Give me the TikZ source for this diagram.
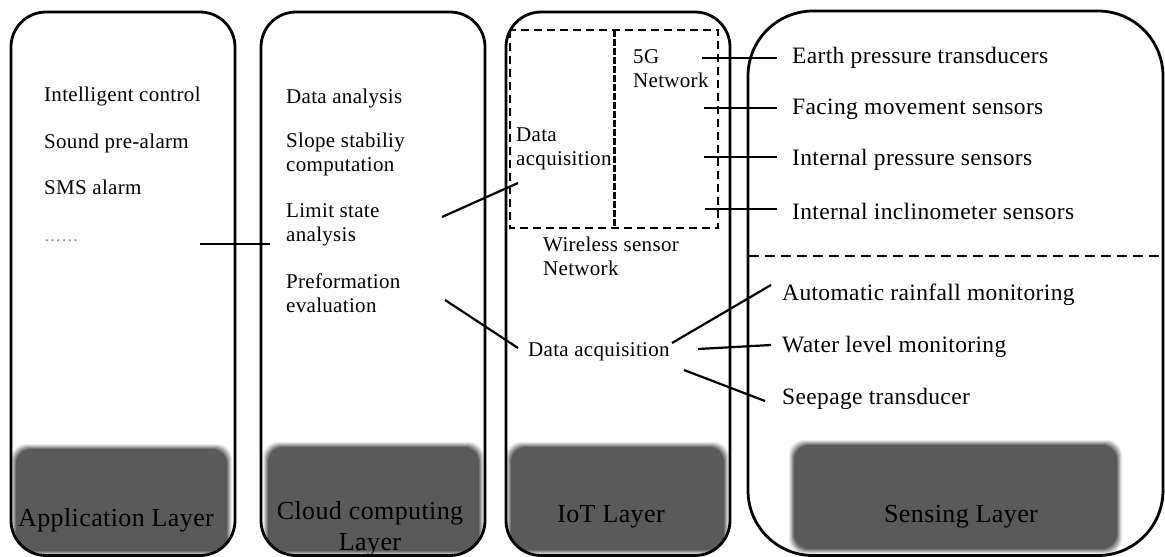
\documentclass[tikz,border=0pt]{standalone}
\usepackage{fontspec}
\setmainfont{Liberation Serif}[LetterSpace=1.5]
\definecolor{boxgray}{HTML}{5A5A5A}
\begin{document}
\begin{tikzpicture}[x=1pt,y=-1pt,
  outline/.style={line width=2.8pt},
  conn/.style={line width=2.2pt},
  dashbox/.style={line width=2.8pt, dash pattern=on 8pt off 5pt},
  divider/.style={line width=3pt, dash pattern=on 7pt off 2pt},
  txt/.style={anchor=base west, inner sep=0pt, font=\fontsize{21}{24}\selectfont, align=left},
  stxt/.style={anchor=base west, inner sep=0pt, font=\fontsize{23.5}{26}\selectfont},
  ltxt/.style={anchor=base, inner sep=0pt, font=\fontsize{26}{31}\selectfont, align=center},
  gb/.style={fill=boxgray, rounded corners=15pt}]
\useasboundingbox (0,0) rectangle (1165,557);
\newcommand\grayblock[4]{%
  \foreach \d/\o in {5/0.12,4/0.18,3/0.25,2/0.35,1/0.5}{%
    \fill[gb, opacity=\o] (#1-\d,#2-\d) rectangle (#3+\d,#4+\d);}
  \fill[gb] (#1,#2) rectangle (#3,#4);}
% gray label blocks, clipped by their layer outlines
\begin{scope}\clip[rounded corners=35pt] (11,12) rectangle (235,555.5);
  \grayblock{16}{449}{227}{551}\end{scope}
\begin{scope}\clip[rounded corners=35pt] (261,12) rectangle (485,555.5);
  \grayblock{268}{447}{479}{551}\end{scope}
\begin{scope}\clip[rounded corners=35pt] (506,12) rectangle (730,555.5);
  \grayblock{511}{447}{724}{550}\end{scope}
\begin{scope}\clip[rounded corners=65pt] (748,11) rectangle (1163,555.5);
  \grayblock{794}{445}{1117}{549}\end{scope}
% layer outlines
\draw[outline, rounded corners=35pt] (11,12) rectangle (235,555.5);
\draw[outline, rounded corners=35pt] (261,12) rectangle (485,555.5);
\draw[outline, rounded corners=35pt] (506,12) rectangle (730,555.5);
\draw[outline, rounded corners=65pt] (748,11) rectangle (1163,555.5);
% dashed structures
\draw[dashbox] (510,30) rectangle (718,228);
\draw[divider] (614,30) -- (614,228);
\draw[dashbox, dash pattern=on 10pt off 6pt] (749,256) -- (1165,256);
% layer labels
\node[ltxt] (lapp) at (116,526) {Application Layer};
\node[ltxt] (lcloud) at (370,519) {Cloud computing};
\node[ltxt] (lcloud2) at (370,550) {Layer};
\node[ltxt] (liot) at (611,522) {IoT Layer};
\node[ltxt] (lsens) at (961,522) {Sensing Layer};
% application layer texts
\node[txt] (a1) at (44,101) {Intelligent control};
\node[txt] (a2) at (44,148) {Sound pre-alarm};
\node[txt] (a3) at (44,194) {SMS alarm};
\node[anchor=base west, inner sep=0pt, font=\fontsize{17}{19}\selectfont, text=gray] (a4) at (44,241) {……};
% cloud layer texts (base anchor = last line)
\node[txt] (c1) at (286,103) {Data analysis};
\node[txt] (c2) at (286,171) {Slope stabiliy\\computation};
\node[txt] (c3) at (286,241) {Limit state\\analysis};
\node[txt] (c4) at (286,312) {Preformation\\evaluation};
% IoT texts
\node[txt] (i1) at (516,165) {Data\\acquisition};
\node[txt] (i2) at (633,87) {5G\\Network};
\node[txt] (i3) at (543,275) {Wireless sensor\\Network};
\node[txt] (i4) at (528,356) {Data acquisition};
% sensing texts
\node[stxt] (s1) at (792,63) {Earth pressure transducers};
\node[stxt] (s2) at (792,114) {Facing movement sensors};
\node[stxt] (s3) at (792,165) {Internal pressure sensors};
\node[stxt] (s4) at (792,219) {Internal inclinometer sensors};
\node[stxt] (s5) at (782,300) {Automatic rainfall monitoring};
\node[stxt] (s6) at (782,352) {Water level monitoring};
\node[stxt] (s7) at (782,404) {Seepage transducer};
% connector end points
\coordinate (k1a) at (200,244); \coordinate (k1b) at (270,244);
\coordinate (k2a) at (442,217); \coordinate (k2b) at (518,183);
\coordinate (k3a) at (445,300); \coordinate (k3b) at (518,348);
\coordinate (t1a) at (702,58);  \coordinate (t1b) at (777,58);
\coordinate (t2a) at (704,108); \coordinate (t2b) at (777,108);
\coordinate (t3a) at (704,157); \coordinate (t3b) at (777,157);
\coordinate (t4a) at (705,209); \coordinate (t4b) at (777,209);
\coordinate (r1a) at (672,343); \coordinate (r1b) at (771,285);
\coordinate (r2a) at (698,349); \coordinate (r2b) at (771,345);
\coordinate (r3a) at (684,370); \coordinate (r3b) at (765,401);
% connectors
\foreach \p in {k1,k2,k3,t1,t2,t3,t4,r1,r2,r3}{\draw[conn] (\p a) -- (\p b);}
\end{tikzpicture}
\end{document}
